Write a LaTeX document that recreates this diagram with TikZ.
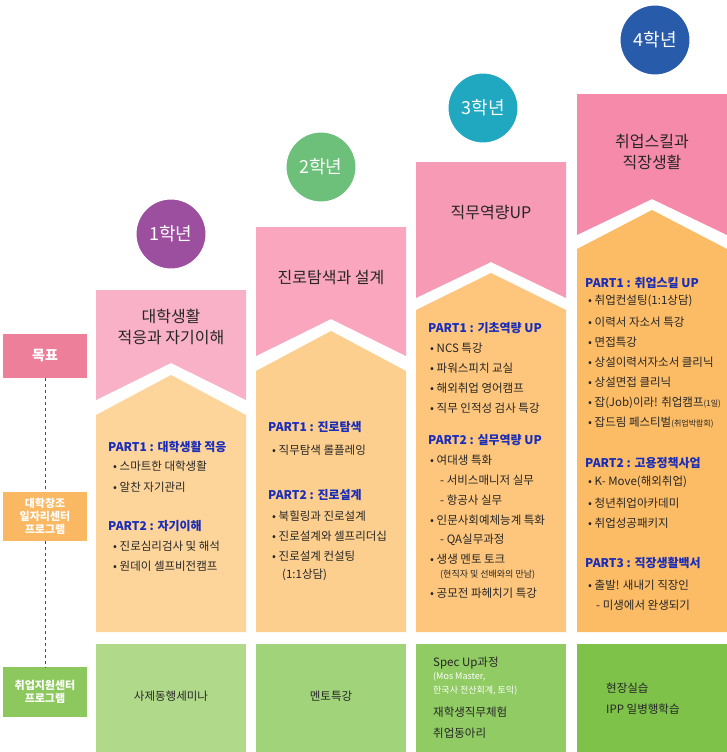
\documentclass[tikz,border=0pt]{standalone}
\usepackage{fontspec}
\setmainfont{Noto Sans CJK KR}
\definecolor{pinkA}{HTML}{F9B1C7}
\definecolor{pinkB}{HTML}{F9A6BE}
\definecolor{pinkC}{HTML}{F79AB5}
\definecolor{pinkD}{HTML}{F68AAA}
\definecolor{orA}{HTML}{FDD59B}
\definecolor{orB}{HTML}{FDCF8E}
\definecolor{orC}{HTML}{FDC67C}
\definecolor{orD}{HTML}{FCBC66}
\definecolor{grA}{HTML}{B0D98A}
\definecolor{grB}{HTML}{A1D47A}
\definecolor{grC}{HTML}{90CB63}
\definecolor{grD}{HTML}{7EC24A}
\definecolor{partblue}{HTML}{1A2DB8}
\definecolor{goalpink}{HTML}{EE7F9A}
\definecolor{progor}{HTML}{FBB862}
\definecolor{proggr}{HTML}{8DC85F}
\tikzset{
  ttl/.style={font=\fontsize{16}{21}\selectfont, align=center, text=black!85},
  part/.style={anchor=west, font=\fontsize{12}{14}\selectfont\bfseries, text=partblue, inner sep=0pt},
  item/.style={anchor=west, font=\fontsize{11.5}{14}\selectfont, text=black!85, inner sep=0pt},
  small/.style={anchor=west, font=\fontsize{9}{11}\selectfont, text=black!85, inner sep=0pt},
  side/.style={font=\fontsize{11}{13}\selectfont\bfseries, text=white, align=center},
  yearball/.style={circle, draw=white, line width=3pt, minimum size=72pt, text=white,
    font=\fontsize{18}{20}\selectfont, inner sep=0pt}
}
\begin{document}
\begin{tikzpicture}[x=1pt,y=-1pt]
\useasboundingbox (0,0) rectangle (727,752);
% columns: x-left, pink top, pink side, pink peak, orange side, orange peak
\foreach \xl/\pt/\ps/\pp/\os/\op/\pc/\oc/\gc in
  {96/290/400/363/415/375/pinkA/orA/grA,
   256/227/356/319/371/331/pinkB/orB/grB,
   416/162/298/262/310/273/pinkC/orC/grC,
   577/94/235/199/249/210/pinkD/orD/grD}{
  \fill[\pc] (\xl,\pt) -- (\xl+150,\pt) -- (\xl+150,\ps) -- (\xl+75,\pp) -- (\xl,\ps) -- cycle;
  \fill[\oc] (\xl,\os) -- (\xl+75,\op) -- (\xl+150,\os) -- (\xl+150,632) -- (\xl,632) -- cycle;
  \fill[\gc] (\xl,644) rectangle (\xl+150,752);
}
% year circles
\node[yearball, fill={rgb,255:red,155;green,79;blue,158}] (y1) at (171,234) {1학년};
\node[yearball, fill={rgb,255:red,108;green,192;blue,122}] (y2) at (321,167) {2학년};
\node[yearball, fill={rgb,255:red,31;green,168;blue,192}] (y3) at (483,108) {3학년};
\node[yearball, fill={rgb,255:red,40;green,91;blue,170}] (y4) at (655,40) {4학년};
% titles
\node[ttl] (t1) at (171,327) {대학생활\\적응과 자기이해};
\node[ttl] (t2) at (331,278) {진로탐색과 설계};
\node[ttl] (t3) at (491,213) {직무역량UP};
\node[ttl] (t4) at (652,152) {취업스킬과\\직장생활};
% left labels
\node[side, fill=goalpink, minimum width=84pt, minimum height=44pt, font=\fontsize{14}{16}\selectfont\bfseries] (goal) at (45,356) {목표};
\node[side, fill=progor, minimum width=84pt, minimum height=49pt] (prog1) at (45,516) {대학창조\\일자리센터\\프로그램};
\node[side, fill=proggr, minimum width=84pt, minimum height=50pt] (prog2) at (45,692) {취업지원센터\\프로그램};
\draw[dashed, black!70] (goal.south) -- (prog1.north);
\draw[dashed, black!70] (prog1.south) -- (prog2.north);
% column 1
\node[part] at (108,447) {PART1 : 대학생활 적응};
\node[item] at (113,466) {• 스마트한 대학생활};
\node[item] at (113,487) {• 알찬 자기관리};
\node[part] at (108,526) {PART2 : 자기이해};
\node[item] at (113,546) {• 진로심리검사 및 해석};
\node[item] at (113,566) {• 원데이 셀프비전캠프};
% column 2
\node[part] at (268,427) {PART1 : 진로탐색};
\node[item] at (272,450) {• 직무탐색 롤플레잉};
\node[part] at (268,495) {PART2 : 진로설계};
\node[item] at (272,516) {• 북힐링과 진로설계};
\node[item] at (272,536) {• 진로설계와 셀프리더십};
\node[item] at (272,556) {• 진로설계 컨설팅};
\node[item] at (282,575) {(1:1상담)};
% column 3
\node[part] at (428,328) {PART1 : 기초역량 UP};
\node[item] at (430,348) {• NCS 특강};
\node[item] at (430,368) {• 파워스피치 교실};
\node[item] at (430,388) {• 해외취업 영어캠프};
\node[item] at (430,408) {• 직무 인적성 검사 특강};
\node[part] at (428,440) {PART2 : 실무역량 UP};
\node[item] at (430,460) {• 여대생 특화};
\node[item] at (440,480) {- 서비스매니저 실무};
\node[item] at (440,500) {- 항공사 실무};
\node[item] at (430,520) {• 인문사회예체능계 특화};
\node[item] at (440,540) {- QA실무과정};
\node[item] at (430,559) {• 생생 멘토 토크};
\node[small] at (440,575) {(현직자 및 선배와의 만남)};
\node[item] at (430,593) {• 공모전 파헤치기 특강};
% column 4
\node[part] at (585,283) {PART1 : 취업스킬 UP};
\node[item] at (588,301) {• 취업컨설팅(1:1상담)};
\node[item] at (588,322) {• 이력서 자소서 특강};
\node[item] at (588,342) {• 면접특강};
\node[item] at (588,362) {• 상설이력서자소서 클리닉};
\node[item] at (588,382) {• 상설면접 클리닉};
\node[item] at (588,403) {• 잡(Job)이라! 취업캠프{\fontsize{8}{10}\selectfont(1일)}};
\node[item] at (588,423) {• 잡드림 페스티벌{\fontsize{8}{10}\selectfont(취업박람회)}};
\node[part] at (585,463) {PART2 : 고용정책사업};
\node[item] at (588,482) {• K- Move(해외취업)};
\node[item] at (588,503) {• 청년취업아카데미};
\node[item] at (588,523) {• 취업성공패키지};
\node[part] at (585,563) {PART3 : 직장생활백서};
\node[item] at (588,585) {• 출발! 새내기 직장인};
\node[item] at (596,605) {- 미생에서 완생되기};
% bottom programs
\node[item, anchor=center] at (171,696) {사제동행세미나};
\node[item, anchor=center] at (331,696) {멘토특강};
\node[item] at (433,663) {Spec Up과정};
\node[small, text=white] at (433,677) {(Mos Master,};
\node[small, text=white] at (433,691) {한국사 전산회계, 토익)};
\node[item] at (433,712) {재학생직무체험};
\node[item] at (433,733) {취업동아리};
\node[item] at (606,688) {현장실습};
\node[item] at (606,709) {IPP 일병행학습};
\end{tikzpicture}
\end{document}
